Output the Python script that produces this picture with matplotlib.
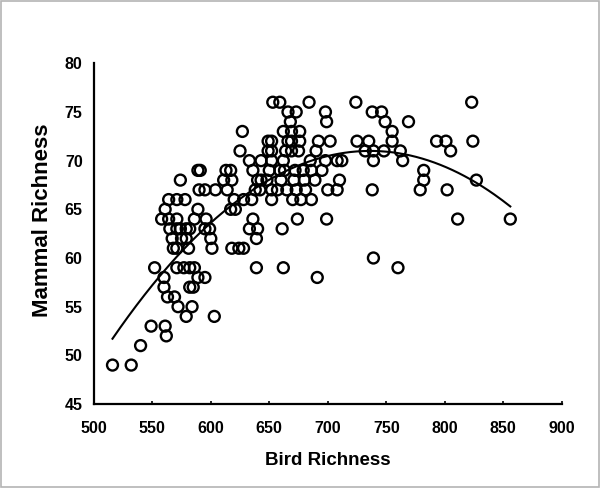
import numpy as np
import matplotlib
matplotlib.use("Agg")
import matplotlib.pyplot as plt
from matplotlib.patches import Rectangle

# mammal richness level -> bird richness values
bird_76 = [653, 659, 684, 724, 823]
bird_75 = [666, 673, 698, 738, 746]
bird_74 = [668, 699, 749, 769]
bird_73 = [627, 662, 669, 676, 755]
bird_72 = [649, 652, 666, 669, 676, 692, 702, 725, 735, 755, 793, 801, 824]
bird_71 = [625, 649, 652, 664, 669, 675, 690, 732, 739, 748, 762, 805]
bird_70 = [633, 643, 652, 662, 685, 698, 708, 712, 739, 764]
bird_69 = [589, 591, 613, 617, 636, 650, 659, 663, 672, 679, 686, 695, 782]
bird_68 = [574, 611, 618, 640, 643, 648, 660, 671, 680, 689, 710, 782, 827]
bird_67 = [590, 595, 604, 614, 638, 642, 652, 657, 665, 673, 681, 700, 708, 738, 779, 802]
bird_66 = [564, 571, 578, 620, 628, 635, 652, 670, 677, 686]
bird_65 = [561, 589, 617, 621]
bird_64 = [558, 564, 571, 586, 596, 636, 674, 699, 811, 856]
bird_63 = [565, 571, 574, 579, 582, 595, 599, 633, 640, 661]
bird_62 = [567, 575, 579, 600, 639]
bird_61 = [568, 571, 581, 601, 618, 624, 628]
bird_60 = [739]
bird_59 = [552, 571, 577, 582, 586, 639, 662, 760]
bird_58 = [560, 589, 595, 691]
bird_57 = [560, 582, 585]
bird_56 = [563, 569]
bird_55 = [572, 584]
bird_54 = [579, 603]
bird_53 = [549, 561]
bird_52 = [562]
bird_51 = [540]
bird_49 = [516, 532]

groups = {
    76: bird_76, 75: bird_75, 74: bird_74, 73: bird_73, 72: bird_72,
    71: bird_71, 70: bird_70, 69: bird_69, 68: bird_68, 67: bird_67,
    66: bird_66, 65: bird_65, 64: bird_64, 63: bird_63, 62: bird_62,
    61: bird_61, 60: bird_60, 59: bird_59, 58: bird_58, 57: bird_57,
    56: bird_56, 55: bird_55, 54: bird_54, 53: bird_53, 52: bird_52,
    51: bird_51, 49: bird_49,
}

birds = np.array([b for m, lst in groups.items() for b in lst], dtype=float)
mammals = np.array([m for m, lst in groups.items() for b in lst], dtype=float)

# quadratic fit, as in the original figure
coef = np.polyfit(birds, mammals, 2)
xs = np.linspace(birds.min(), birds.max(), 200)
ys = np.polyval(coef, xs)

plt.rcParams['font.family'] = ['Liberation Sans', 'DejaVu Sans']
plt.rcParams['font.weight'] = 'bold'

fig = plt.figure(figsize=(6, 4.88), dpi=100)
ax = fig.add_axes([0.1563, 0.1721, 0.78, 0.6982])

ax.scatter(birds, mammals, s=62, facecolors='none', edgecolors='black',
           linewidths=1.7, zorder=2)
ax.plot(xs, ys, color='black', lw=1.5, zorder=3)

ax.set_xlim(500, 900)
ax.set_ylim(45, 80)
ax.set_xticks(np.arange(500, 901, 50))
ax.set_yticks(np.arange(45, 81, 5))

for s in ['top', 'right']:
    ax.spines[s].set_visible(False)
for s in ['left', 'bottom']:
    ax.spines[s].set_linewidth(1.6)

ax.tick_params(axis='x', direction='in', length=2.5, width=1.2, pad=12, labelsize=11.5)
ax.tick_params(axis='y', length=0, pad=8, labelsize=11.5)

ax.set_xlabel('Bird Richness', fontsize=13.5, fontweight='bold', labelpad=12)
ax.set_ylabel('Mammal Richness', fontsize=16, fontweight='bold')
ax.yaxis.set_label_coords(-0.088, 0.54)

fig.patches.append(Rectangle((0.002, 0.002), 0.996, 0.996, transform=fig.transFigure,
                             fill=False, edgecolor='#b4b4b4', lw=1.2))

fig.savefig('out.png', dpi=100)
